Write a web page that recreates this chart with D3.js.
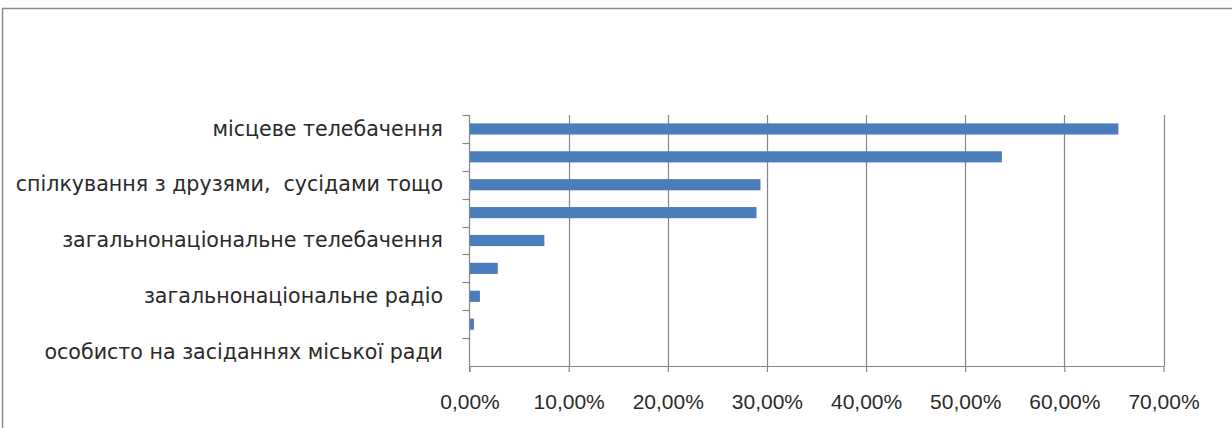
<!DOCTYPE html>
<html>
<head>
<meta charset="utf-8">
<script src="https://cdn.jsdelivr.net/npm/d3@7"></script>
<style>
  body { margin: 0; background: #fff; }
  svg { display: block; font-family: "DejaVu Sans", sans-serif; }
</style>
</head>
<body>
<svg id="chart" width="1232" height="428"></svg>
<script>
// categories top to bottom; Excel only printed every second label
const categories = [
  'місцеве телебачення',
  'місцева преса',
  'спілкування з друзями,  сусідами тощо',
  'Інтернет',
  'загальнонаціональне телебачення',
  'місцеве радіо',
  'загальнонаціональне радіо',
  'загальнонаціональна преса',
  'особисто на засіданнях міської ради'
];
const values = [65.45, 53.7, 29.35, 28.95, 7.55, 2.85, 1.05, 0.45, 0];
const shownLabels = [0, 2, 4, 6, 8];
const xTicks = [0, 10, 20, 30, 40, 50, 60, 70];

const svg = d3.select('#chart');
const plotLeft = 469.5, plotRight = 1163.5, plotTop = 115, plotBottom = 366;

// chart frame: only top and left edges are visible
svg.append('path')
  .attr('d', 'M2.5,428 V8.5 H1232')
  .attr('fill', 'none')
  .attr('stroke', '#8c8c8c')
  .attr('stroke-width', 1.5);

const x = d3.scaleLinear().domain([0, 70]).range([plotLeft, plotRight]);
const y = d3.scaleBand().domain(categories).range([plotTop, plotBottom]).paddingInner(0.6).paddingOuter(0.3);
const band = (plotBottom - plotTop) / categories.length;

// vertical gridlines
svg.append('g')
  .selectAll('line')
  .data(xTicks.slice(1))
  .enter()
  .append('line')
  .attr('x1', d => Math.round(x(d)) + 0.5)
  .attr('x2', d => Math.round(x(d)) + 0.5)
  .attr('y1', plotTop)
  .attr('y2', plotBottom)
  .attr('stroke', '#878787')
  .attr('stroke-width', 1.2);

svg.append('g')
  .selectAll('rect')
  .data(values)
  .enter()
  .append('rect')
  .attr('x', x(0))
  .attr('y', (d, i) => y(categories[i]))
  .attr('width', d => x(d) - x(0))
  .attr('height', y.bandwidth())
  .attr('fill', '#4a7ebb');

// x axis
const xAxis = d3.axisBottom(x)
  .tickValues(xTicks)
  .tickSize(6)
  .tickSizeOuter(0)
  .tickFormat(d => d.toFixed(2).replace('.', ',') + '%');
const gx = svg.append('g')
  .attr('transform', `translate(0, ${plotBottom})`)
  .call(xAxis);
gx.selectAll('line, path').attr('stroke', '#878787').attr('stroke-width', 1.2);
gx.selectAll('text')
  .attr('y', 28)
  .attr('fill', '#2a2a2a')
  .style('font-size', '21px');
gx.select('.domain').attr('d', `M${plotLeft},0.5H${plotRight}`);

// y axis line and boundary ticks
const gy = svg.append('g');
gy.append('line')
  .attr('x1', plotLeft).attr('x2', plotLeft)
  .attr('y1', plotTop).attr('y2', plotBottom + 6)
  .attr('stroke', '#878787').attr('stroke-width', 1.2);
gy.selectAll('.btick')
  .data(d3.range(categories.length))
  .enter()
  .append('line')
  .attr('x1', plotLeft - 7).attr('x2', plotLeft)
  .attr('y1', i => Math.round(plotTop + i * band) + 0.5)
  .attr('y2', i => Math.round(plotTop + i * band) + 0.5)
  .attr('stroke', '#878787').attr('stroke-width', 1.2);
gy.selectAll('text')
  .data(shownLabels)
  .enter()
  .append('text')
  .attr('x', 443)
  .attr('y', i => y(categories[i]) + y.bandwidth() / 2)
  .attr('dy', '0.32em')
  .attr('text-anchor', 'end')
  .attr('fill', '#2a2a2a')
  .style('font-size', '20.6px')
  .style('white-space', 'pre')
  .text(i => categories[i]);
</script>
</body>
</html>
